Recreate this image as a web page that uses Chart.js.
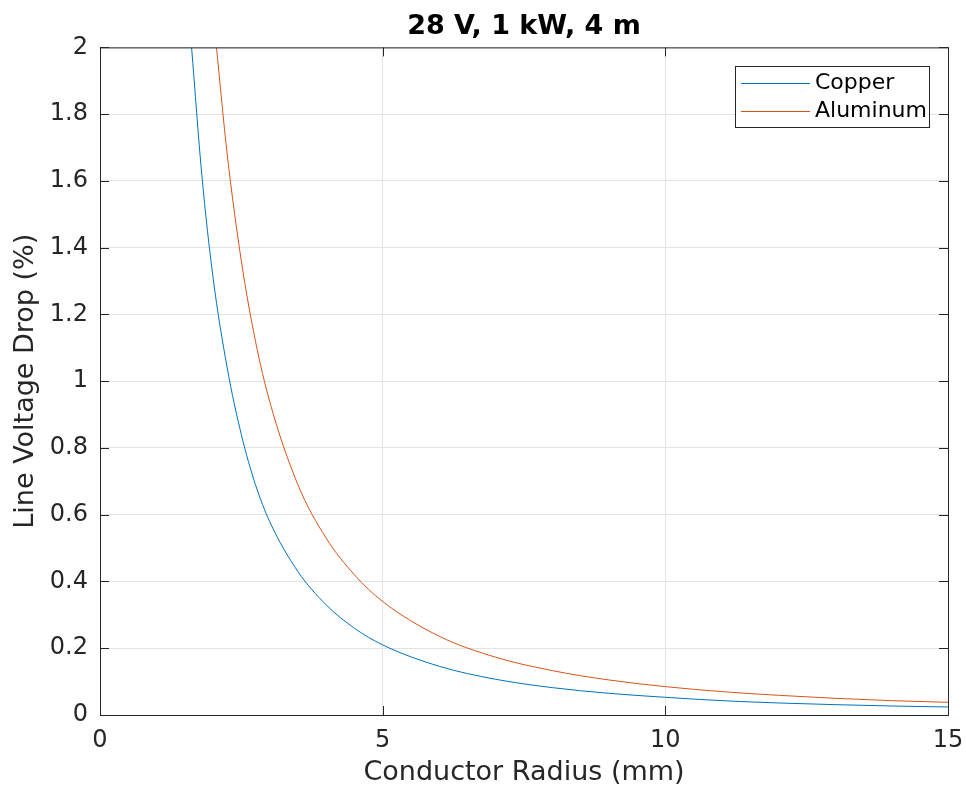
<!DOCTYPE html>
<html>
<head>
<meta charset="utf-8">
<script src="https://cdn.jsdelivr.net/npm/chart.js@4.4.1/dist/chart.umd.min.js"></script>
<style>
  html, body { margin: 0; padding: 0; background: #fff; }
  #wrap { width: 966px; height: 792px; }
</style>
</head>
<body>
<div id="wrap"><canvas id="chart"></canvas></div>
<script>
// values
const copperRadius = [1.62, 1.8, 2.0, 2.25, 2.5, 2.75, 3, 3.5, 4, 4.5, 5, 6, 7, 8, 9, 10, 11, 12, 13, 14, 15];
const copperDrop   = [2.0, 1.62, 1.31, 1.04, 0.84, 0.69, 0.58, 0.43, 0.33, 0.26, 0.21, 0.146, 0.107, 0.082, 0.065, 0.053, 0.043, 0.036, 0.031, 0.027, 0.024];
const aluRadius = [2.06, 2.25, 2.5, 2.75, 3, 3.5, 4, 4.5, 5, 6, 7, 8, 9, 10, 11, 12, 13, 14, 15];
const aluDrop   = [2.0, 1.68, 1.36, 1.12, 0.94, 0.69, 0.53, 0.42, 0.34, 0.236, 0.173, 0.133, 0.105, 0.085, 0.070, 0.059, 0.050, 0.043, 0.038];
const xTicks = [0, 5, 10, 15];
const yTicks = [0, 0.2, 0.4, 0.6, 0.8, 1, 1.2, 1.4, 1.6, 1.8, 2];

const FONT = "'DejaVu Sans', sans-serif";
const AXIS = '#262626';

function toPoints(xs, ys) {
  return xs.map((x, i) => ({ x: x, y: ys[i] }));
}

// box, inward ticks and legend like the MATLAB figure
const boxPlugin = {
  id: 'box',
  afterDatasetsDraw(chart) {
    const { ctx, chartArea: a, scales } = chart;
    ctx.save();
    ctx.strokeStyle = AXIS;
    ctx.lineWidth = 1;
    ctx.strokeRect(a.left + 0.5, a.top + 0.5, a.right - a.left, a.bottom - a.top);
    ctx.beginPath();
    xTicks.forEach(v => {
      const px = Math.round(scales.x.getPixelForValue(v)) + 0.5;
      ctx.moveTo(px, a.bottom); ctx.lineTo(px, a.bottom - 9);
      ctx.moveTo(px, a.top); ctx.lineTo(px, a.top + 9);
    });
    yTicks.forEach(v => {
      const py = Math.round(scales.y.getPixelForValue(v)) + 0.5;
      ctx.moveTo(a.left, py); ctx.lineTo(a.left + 9, py);
      ctx.moveTo(a.right, py); ctx.lineTo(a.right - 9, py);
    });
    ctx.stroke();

    // legend
    const lx = 735, ly = 66, lw = 194, lh = 61;
    ctx.fillStyle = '#fff';
    ctx.fillRect(lx, ly, lw, lh);
    ctx.strokeStyle = AXIS;
    ctx.strokeRect(lx + 0.5, ly + 0.5, lw, lh);
    ctx.font = '22px ' + FONT;
    ctx.textBaseline = 'middle';
    chart.data.datasets.forEach((ds, i) => {
      const y = ly + 17 + i * 28;
      ctx.strokeStyle = ds.borderColor;
      ctx.beginPath();
      ctx.moveTo(lx + 6, y + 0.5); ctx.lineTo(lx + 75, y + 0.5);
      ctx.stroke();
      ctx.fillStyle = '#000';
      ctx.fillText(ds.label, lx + 80, y);
    });
    ctx.restore();
  }
};

new Chart(document.getElementById('chart'), {
  type: 'line',
  data: {
    datasets: [
      {
        label: 'Copper',
        data: toPoints(copperRadius, copperDrop),
        borderColor: '#0072BD',
        borderWidth: 1,
        pointRadius: 0,
        cubicInterpolationMode: 'monotone'
      },
      {
        label: 'Aluminum',
        data: toPoints(aluRadius, aluDrop),
        borderColor: '#D95319',
        borderWidth: 1,
        pointRadius: 0,
        cubicInterpolationMode: 'monotone'
      }
    ]
  },
  options: {
    responsive: true,
    maintainAspectRatio: false,
    animation: false,
    layout: { padding: { top: 0, right: 18, left: 0, bottom: 0 } },
    plugins: {
      legend: { display: false },
      tooltip: { enabled: false },
      title: {
        display: true,
        fullSize: false,
        text: '28 V, 1 kW, 4 m',
        color: '#000',
        font: { family: FONT, size: 27, weight: 'bold' },
        padding: { top: 11, bottom: 4 }
      }
    },
    scales: {
      x: {
        type: 'linear',
        min: 0,
        max: 15,
        afterBuildTicks: s => { s.ticks = xTicks.map(v => ({ value: v })); },
        afterFit: s => { s.height = 77; s.paddingLeft = 0; s.paddingRight = 0; },
        grid: { color: '#e3e3e3', drawTicks: false },
        border: { display: false },
        ticks: { color: AXIS, padding: 11, font: { family: FONT, size: 24 } },
        title: {
          display: true,
          text: 'Conductor Radius (mm)',
          color: AXIS,
          font: { family: FONT, size: 27 },
          padding: { top: 2, bottom: 3 }
        }
      },
      y: {
        type: 'linear',
        min: 0,
        max: 2,
        afterBuildTicks: s => { s.ticks = yTicks.map(v => ({ value: v })); },
        afterFit: s => { s.width = 100; s.paddingTop = 0; s.paddingBottom = 0; },
        grid: { color: '#e3e3e3', drawTicks: false },
        border: { display: false },
        ticks: {
          color: AXIS,
          padding: 12,
          font: { family: FONT, size: 24 },
          callback: v => String(v)
        },
        title: {
          display: true,
          text: 'Line Voltage Drop (%)',
          color: AXIS,
          font: { family: FONT, size: 27 },
          padding: { top: 10, bottom: 10 }
        }
      }
    }
  },
  plugins: [boxPlugin]
});
</script>
</body>
</html>
